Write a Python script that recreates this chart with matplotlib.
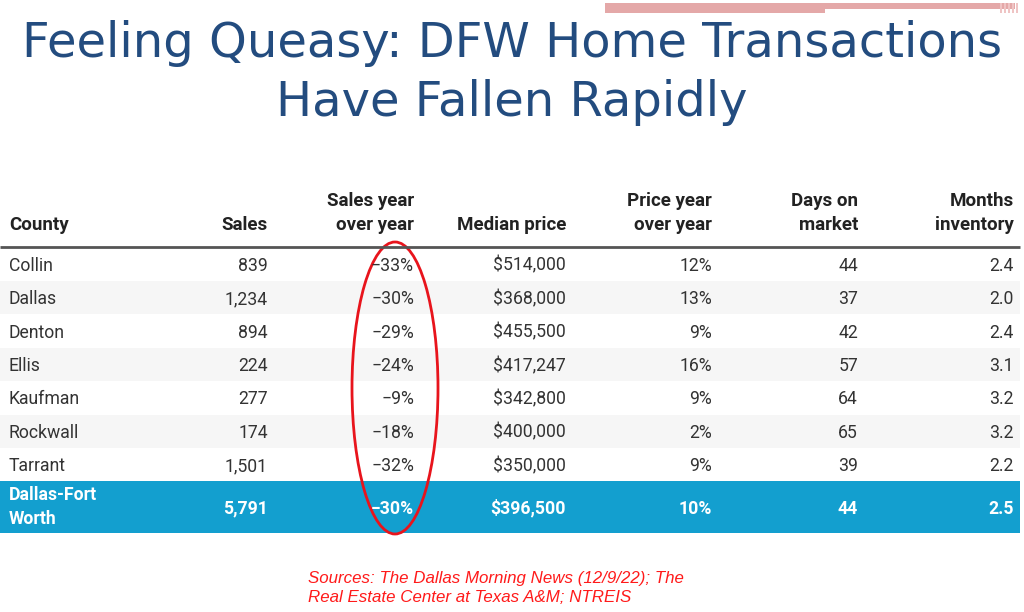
import matplotlib.pyplot as plt
from matplotlib.patches import Rectangle, Ellipse

# Table data
counties = ['Collin', 'Dallas', 'Denton', 'Ellis', 'Kaufman', 'Rockwall', 'Tarrant']
sales = ['839', '1,234', '894', '224', '277', '174', '1,501']
sales_yoy = ['\u221233%', '\u221230%', '\u221229%', '\u221224%', '\u22129%', '\u221218%', '\u221232%']
median_price = ['$514,000', '$368,000', '$455,500', '$417,247', '$342,800', '$400,000', '$350,000']
price_yoy = ['12%', '13%', '9%', '16%', '9%', '2%', '9%']
days_on_market = ['44', '37', '42', '57', '64', '65', '39']
months_inventory = ['2.4', '2.0', '2.4', '3.1', '3.2', '3.2', '2.2']

total_row = ['Dallas-Fort\nWorth', '5,791', '\u221230%', '$396,500', '10%', '44', '2.5']
headers = ['County', 'Sales', 'Sales year\nover year', 'Median price',
           'Price year\nover year', 'Days on\nmarket', 'Months\ninventory']

title = 'Feeling Queasy: DFW Home Transactions\nHave Fallen Rapidly'
source = 'Sources: The Dallas Morning News (12/9/22); The\nReal Estate Center at Texas A&M; NTREIS'

# layout (pixels)
col_x = [9, 268, 414, 566, 712, 858, 1014]
col_ha = ['left'] + ['right'] * 6
top = 246.5
row_h = 33.4
total_h = 52
half_cap = 6.5  # baseline offset from row centre

fig = plt.figure(figsize=(10.24, 6.12), dpi=100)
ax = fig.add_axes([0, 0, 1, 1])
ax.set_xlim(0, 1024)
ax.set_ylim(612, 0)
ax.axis('off')

# decorative pink bars at top right
ax.add_patch(Rectangle((605, 3), 410, 6, color='#e4a8a8', lw=0))
ax.add_patch(Rectangle((605, 9), 220, 4, color='#e4a8a8', lw=0))
for xs in [1000, 1004, 1008, 1012, 1016]:
    ax.add_patch(Rectangle((xs, 3), 2, 10, color='#efc4c4', lw=0))

ax.text(512, 73, title, ha='center', va='center', fontsize=34.6,
        color='#234c7f', family='DejaVu Sans', linespacing=1.31)

# header
for x, ha, h in zip(col_x, col_ha, headers):
    ax.text(x, 230, h, ha=ha, va='baseline', fontsize=13.5, fontweight='bold',
            color='#222222', family='Roboto', linespacing=1.42)
ax.plot([0, 1020], [top, top], color='#555555', lw=2, solid_capstyle='butt')

cols = [counties, sales, sales_yoy, median_price, price_yoy, days_on_market, months_inventory]
for i in range(len(counties)):
    y0 = top + 1 + i * row_h
    if i % 2 == 1:
        ax.add_patch(Rectangle((0, y0), 1020, row_h, color='#f6f6f6', lw=0))
    for x, ha, col in zip(col_x, col_ha, cols):
        ax.text(x, y0 + row_h / 2 + half_cap, col[i], ha=ha, va='baseline',
                fontsize=12.7, color='#333333', family='Roboto')

# total row
yt = top + 1 + len(counties) * row_h
ax.add_patch(Rectangle((0, yt), 1020, total_h, color='#139fcf', lw=0))
for x, ha, v in zip(col_x, col_ha, total_row):
    yb = yt + total_h / 2 + half_cap + (10 if '\n' in v else 0)
    ax.text(x, yb, v, ha=ha, va='baseline', fontsize=12.7,
            fontweight='bold', color='white', family='Roboto', linespacing=1.4)

# red ellipse highlight
ax.add_patch(Ellipse((395, 388), 86, 292, fill=False, edgecolor='#e8141c', lw=2))

ax.text(308, 588, source, ha='left', va='center', fontsize=12.2, style='italic',
        color='#ff1a1a', family='Liberation Sans', linespacing=1.25)

plt.savefig('out.png', dpi=100)
